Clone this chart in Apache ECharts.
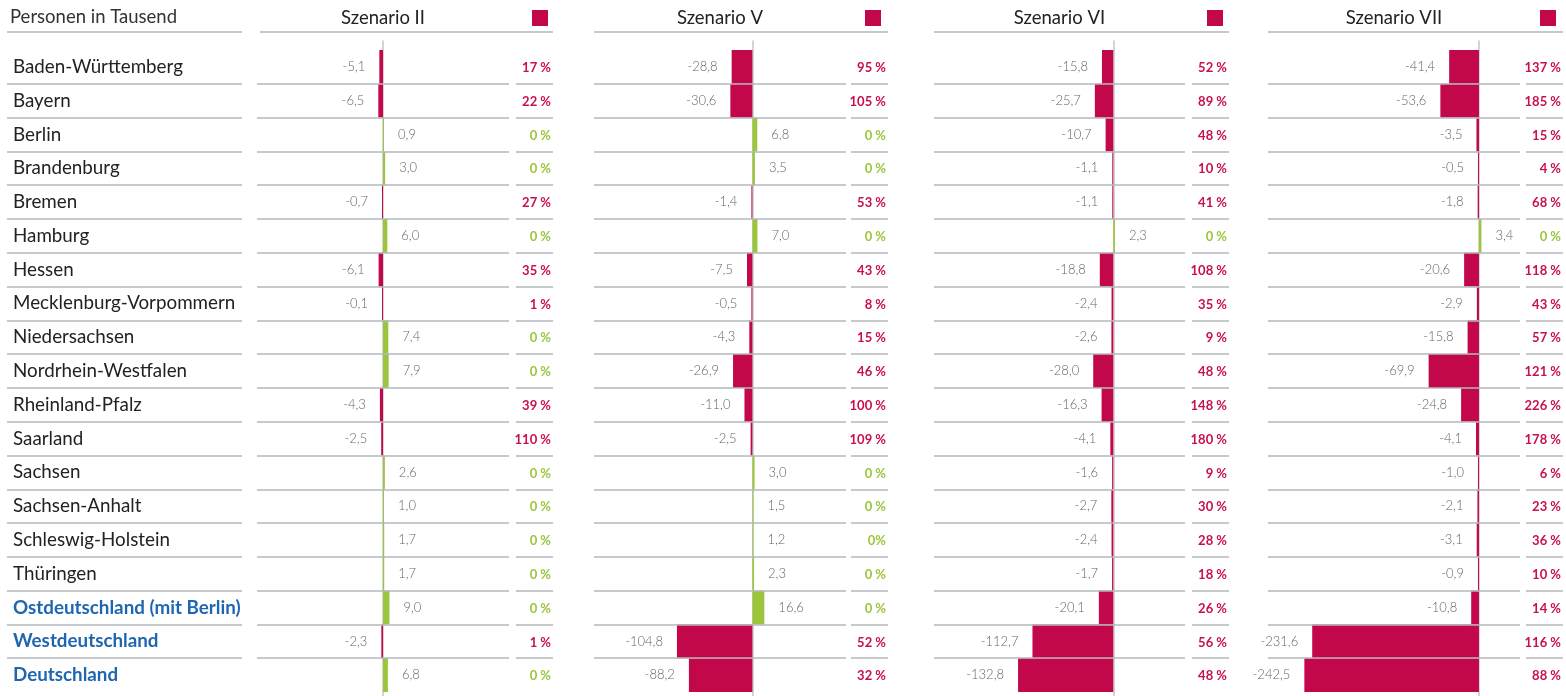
<!DOCTYPE html>
<html>
<head>
<meta charset="utf-8">
<script src="https://cdn.jsdelivr.net/npm/echarts@6/dist/echarts.min.js"></script>
<style>
  html, body { margin: 0; padding: 0; background: #fff; }
  #chart { width: 1566px; height: 696px; }
</style>
</head>
<body>
<div id="chart"></div>
<script>
// Zeilen (Bundesländer + Aggregate)
const regions = [
  'Baden-Württemberg', 'Bayern', 'Berlin', 'Brandenburg', 'Bremen', 'Hamburg', 'Hessen',
  'Mecklenburg-Vorpommern', 'Niedersachsen', 'Nordrhein-Westfalen', 'Rheinland-Pfalz',
  'Saarland', 'Sachsen', 'Sachsen-Anhalt', 'Schleswig-Holstein', 'Thüringen',
  'Ostdeutschland (mit Berlin)', 'Westdeutschland', 'Deutschland'
];

// Personen in Tausend
const valII = [-5.1, -6.5, 0.9, 3.0, -0.7, 6.0, -6.1, -0.1, 7.4, 7.9, -4.3, -2.5, 2.6, 1.0, 1.7, 1.7, 9.0, -2.3, 6.8];
const valV = [-28.8, -30.6, 6.8, 3.5, -1.4, 7.0, -7.5, -0.5, -4.3, -26.9, -11.0, -2.5, 3.0, 1.5, 1.2, 2.3, 16.6, -104.8, -88.2];
const valVI = [-15.8, -25.7, -10.7, -1.1, -1.1, 2.3, -18.8, -2.4, -2.6, -28.0, -16.3, -4.1, -1.6, -2.7, -2.4, -1.7, -20.1, -112.7, -132.8];
const valVII = [-41.4, -53.6, -3.5, -0.5, -1.8, 3.4, -20.6, -2.9, -15.8, -69.9, -24.8, -4.1, -1.0, -2.1, -3.1, -0.9, -10.8, -231.6, -242.5];

// Prozentspalte
const pctII = ['17 %', '22 %', '0 %', '0 %', '27 %', '0 %', '35 %', '1 %', '0 %', '0 %', '39 %', '110 %', '0 %', '0 %', '0 %', '0 %', '0 %', '1 %', '0 %'];
const pctV = ['95 %', '105 %', '0 %', '0 %', '53 %', '0 %', '43 %', '8 %', '15 %', '46 %', '100 %', '109 %', '0 %', '0 %', '0%', '0 %', '0 %', '52 %', '32 %'];
const pctVI = ['52 %', '89 %', '48 %', '10 %', '41 %', '0 %', '108 %', '35 %', '9 %', '48 %', '148 %', '180 %', '9 %', '30 %', '28 %', '18 %', '26 %', '56 %', '48 %'];
const pctVII = ['137 %', '185 %', '15 %', '4 %', '68 %', '0 %', '118 %', '43 %', '57 %', '121 %', '226 %', '178 %', '6 %', '23 %', '36 %', '10 %', '14 %', '116 %', '88 %'];

const RED = '#c3074b';
const GREEN = '#9bc53d';
const LINE = '#b3b7bd';
const FONT = 'Lato';
const TOP = 50, HEIGHT = 642;

const panels = [
  { name: 'Szenario II', vals: valII, pct: pctII, left: 257, width: 252, min: -175, max: 175, pctRight: 553, headLeft: 260, legendLeft: 532 },
  { name: 'Szenario V', vals: valV, pct: pctV, left: 594, width: 252, min: -220, max: 130, pctRight: 888, headLeft: 594, legendLeft: 865 },
  { name: 'Szenario VI', vals: valVI, pct: pctVI, left: 934, width: 251, min: -250, max: 100, pctRight: 1229, headLeft: 934, legendLeft: 1207 },
  { name: 'Szenario VII', vals: valVII, pct: pctVII, left: 1268, width: 252, min: -293, max: 57, pctRight: 1563, headLeft: 1268, legendLeft: 1540 }
];

const fmt = v => v.toFixed(1).replace('.', ',');

const rowSplit = {
  show: true,
  showMinLine: false,
  showMaxLine: false,
  lineStyle: { color: LINE, width: 1.5 }
};

const grid = [{ left: 7, top: TOP, width: 235, height: HEIGHT }];
const xAxis = [{ type: 'value', gridIndex: 0, show: false, min: 0, max: 1 }];
const yAxis = [{
  type: 'category', gridIndex: 0, data: regions, inverse: true,
  axisLine: { show: false }, axisTick: { show: false },
  splitLine: rowSplit,
  axisLabel: {
    inside: true, margin: 6,
    formatter: (v, i) => (i >= 16 ? '{b|' + v + '}' : '{n|' + v + '}'),
    rich: {
      n: { fontFamily: FONT, fontSize: 18.8, color: '#222' },
      b: { fontFamily: FONT, fontSize: 18.8, fontWeight: 'bold', color: '#1f66b1' }
    }
  }
}];
const series = [];
const legend = [];
const graphic = [
  { type: 'text', x: 10, y: 17, style: { text: 'Personen in Tausend', fontFamily: FONT, fontSize: 18.5, fill: '#333', verticalAlign: 'middle' } },
  { type: 'line', shape: { x1: 7, y1: 32, x2: 242, y2: 32 }, style: { stroke: LINE, lineWidth: 1.5 } }
];

panels.forEach((p, k) => {
  const gBar = 1 + k * 3, gPct = 2 + k * 3, gZero = 3 + k * 3;
  grid.push(
    { left: p.left, top: TOP, width: p.width, height: HEIGHT },
    { left: p.pctRight - 37, top: TOP, width: 37, height: HEIGHT },
    { left: p.left, top: 41, width: p.width, height: 655 }
  );
  xAxis.push(
    { type: 'value', gridIndex: gBar, show: false, min: p.min, max: p.max },
    { type: 'value', gridIndex: gPct, show: false, min: 0, max: 1 },
    { type: 'value', gridIndex: gZero, show: false, min: p.min, max: p.max }
  );
  yAxis.push(
    {
      type: 'category', gridIndex: gBar, data: regions, inverse: true, z: 3,
      axisLine: { show: false }, axisTick: { show: false }, axisLabel: { show: false },
      splitLine: rowSplit
    },
    {
      type: 'category', gridIndex: gPct, data: regions, inverse: true, position: 'right',
      axisLine: { show: false }, axisTick: { show: false },
      splitLine: rowSplit,
      axisLabel: {
        inside: true, margin: 2,
        formatter: (v, i) => (p.vals[i] > 0 ? '{g|' : '{r|') + p.pct[i] + '}',
        rich: {
          r: { fontFamily: FONT, fontSize: 13, fontWeight: 'bold', color: '#c8104f', padding: [2, 0, 0, 0] },
          g: { fontFamily: FONT, fontSize: 13, fontWeight: 'bold', color: GREEN, padding: [2, 0, 0, 0] }
        }
      }
    },
    {
      type: 'value', gridIndex: gZero, min: 0, max: 1, z: 1,
      axisLine: { show: true, onZero: true, lineStyle: { color: '#c4c6ca', width: 1.5 } },
      axisTick: { show: false }, axisLabel: { show: false }, splitLine: { show: false }
    }
  );
  series.push({
    name: p.name,
    type: 'bar',
    xAxisIndex: gBar,
    yAxisIndex: gBar,
    barCategoryGap: '0%',
    barMinHeight: 1,
    itemStyle: { color: RED },
    label: {
      show: true, distance: 14, color: '#666', fontFamily: FONT, fontSize: 13, fontWeight: 300,
      formatter: d => fmt(d.value)
    },
    data: p.vals.map(v => ({
      value: v,
      itemStyle: { color: v < 0 ? RED : GREEN },
      label: { position: v < 0 ? 'left' : 'right' }
    }))
  });
  legend.push({
    data: [p.name], left: p.legendLeft, top: 10, padding: 0,
    itemWidth: 16, itemHeight: 16, icon: 'rect', selectedMode: false,
    formatter: () => ''
  });
  graphic.push(
    { type: 'text', x: p.left + p.width / 2, y: 18, style: { text: p.name, fontFamily: FONT, fontSize: 18.5, fill: '#222', align: 'center', verticalAlign: 'middle' } },
    { type: 'line', shape: { x1: p.headLeft, y1: 32, x2: p.pctRight, y2: 32 }, style: { stroke: LINE, lineWidth: 1.5 } }
  );
});

const chart = echarts.init(document.getElementById('chart'));
chart.setOption({
  animation: false,
  textStyle: { fontFamily: FONT },
  grid, xAxis, yAxis, series, legend, graphic
});
</script>
</body>
</html>
